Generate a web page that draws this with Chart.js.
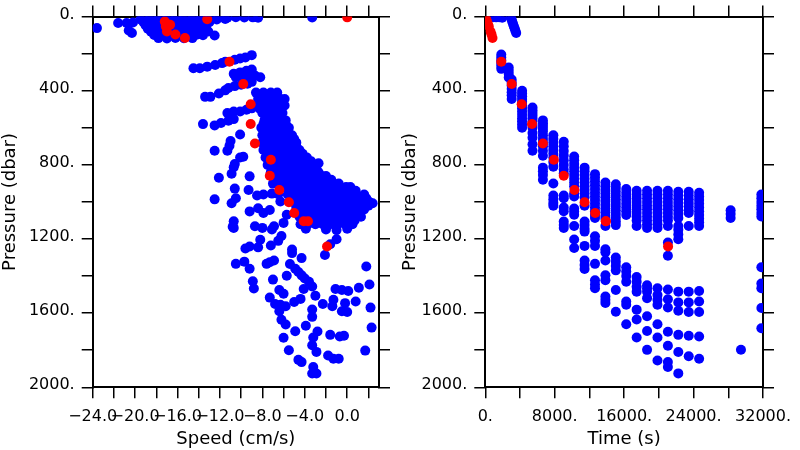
<!DOCTYPE html>
<html><head><meta charset="utf-8">
<script src="https://cdn.jsdelivr.net/npm/chart.js@4.4.1/dist/chart.umd.min.js"></script>
<style>
html,body{margin:0;padding:0;background:#fff;width:800px;height:450px;overflow:hidden}
canvas{position:absolute;top:0}
#c1{left:0}
#c2{left:400px}
</style></head><body>
<canvas id="c1" width="400" height="450"></canvas>
<canvas id="c2" width="400" height="450"></canvas>
<script>
// ---------- tick labels ----------
const pressureTickValues = [0, 400, 800, 1200, 1600, 2000];
const pressureTickLabels = ['0.', '400.', '800.', '1200.', '1600.', '2000.'];
const speedTickValues = [-24, -20, -16, -12, -8, -4, 0];
const speedTickLabels = ['\u221224.0', '\u221220.0', '\u221216.0', '\u221212.0', '\u22128.0', '\u22124.0', '0.0'];
const timeTickValues = [0, 8000, 16000, 24000, 32000];
const timeTickLabels = ['0.', '8000.', '16000.', '24000.', '32000.'];

// ---------- red (highlighted) samples ----------
const redSpeed    = [0.0, -13.2, -17.2, -16.7, -17.1, -17.0, -16.2, -15.3, -11.1, -9.8, -9.1, -9.1, -8.7, -7.2, -7.3, -6.4, -5.5, -5.0, -4.1, -3.7, -1.9];
const redPressure = [4, 14, 27, 44, 53, 80, 97, 115, 244, 364, 473, 579, 685, 772, 859, 936, 1002, 1060, 1104, 1104, 1240];
const redTime     = [0, 100, 200, 330, 400, 600, 720, 830, 1840, 3040, 4190, 5380, 6640, 7900, 9040, 10270, 11440, 12660, 13890, 13890, 21060];

// ---------- blue samples: speed vs pressure ----------
const speedPressureBlue = [
 [-19.3,5],[-18.5,4],[-17.7,6],[-16.9,3],[-16.1,5],[-15.3,4],[-14.5,6],[-13.7,3],[-12.9,5],[-12.1,4],[-11.3,6],[-10.5,3],[-9.7,5],[-8.9,4],[-8.4,6],
 [-19.5,16],[-18.7,15],[-17.9,17],[-17.1,14],[-16.3,16],[-15.5,15],[-14.7,17],[-13.9,14],[-13.1,16],[-12.3,15],[-11.5,13],
 [-19.2,31],[-18.4,30],[-17.6,32],[-16.8,29],[-16.0,31],[-15.2,30],[-14.4,32],[-13.6,29],[-13.0,30],
 [-19.0,48],[-18.2,47],[-17.4,49],[-16.6,46],[-15.8,48],[-15.0,47],[-14.2,49],[-13.4,46],
 [-18.8,65],[-18.0,64],[-17.2,66],[-16.4,63],[-15.6,65],[-14.8,64],[-14.0,66],[-13.3,63],
 [-18.5,82],[-17.7,81],[-16.9,83],[-16.1,80],[-15.3,82],[-14.5,81],[-13.7,83],
 [-18.2,99],[-17.4,98],[-16.6,100],[-15.8,97],[-15.0,99],[-14.2,98],[-13.6,100],
 [-17.8,116],[-17.0,118],[-16.2,115],[-15.4,117],[-14.6,116],
 [-23.6,62],[-21.6,35],[-20.8,35],[-20.2,32],[-20.3,88],[-20.6,75],[-12.5,102],[-13.1,80],[-3.3,5],
 [-14.5,279],[-13.9,279],[-13.2,270],[-12.45,261],[-11.8,251],[-11.5,244],[-10.6,233],[-10.1,226],[-9.6,221],[-9.0,208],
 [-10.7,309],[-10.1,301],[-9.5,292],[-9.0,286],[-10.5,327],[-9.9,322],[-9.3,313],[-8.7,318],[-8.2,327],
 [-11.2,385],[-10.6,375],[-10.0,368],[-9.4,362],[-9.0,352],
 [-13.4,433],[-12.9,433],[-12.1,415],[-11.5,398],
 [-11.3,520],[-10.7,512],[-10.1,512],[-9.5,503],[-9.0,495],
 [-13.6,580],[-12.5,587],[-11.9,574],[-11.2,562],[-10.7,553],
 [-10.1,636],[-11.1,697],[-11.0,671],[-11.3,724],[-12.5,724],
 [-10.1,760],[-9.8,756],[-10.6,795],[-10.7,813],[-10.9,848],[-9.2,862],[-12.1,869],
 [-10.6,928],[-9.3,936],[-12.5,986],[-10.5,980],[-10.9,1007],
 [-8.5,965],[-7.9,960],[-7.1,955],[-6.5,958],[-7.0,901],[-6.5,812],
 [-9.2,1051],[-8.4,1034],[-7.9,1060],[-7.3,1043],[-6.3,998],[-5.7,1069],[-6.0,1113],
 [-10.7,1104],[-10.8,1134],[-8.7,1131],[-8.0,1140],[-7.1,1148],[-6.9,1131],
 [-2.7,791],[2.4,1007],
 // dense core, rows
 [-8.6,410],[-7.9,410],[-7.2,410],[-6.6,410],
 [-8.4,445],[-7.7,445],[-7.0,445],[-6.3,445],[-5.9,445],
 [-8.3,462],[-7.6,462],[-6.9,462],[-6.2,462],
 [-8.6,480],[-7.9,480],[-7.2,480],[-6.5,480],[-5.9,480],
 [-8.2,500],[-7.5,500],[-6.8,500],[-6.2,500],
 [-8.0,520],[-7.5,520],[-6.8,520],[-6.1,520],
 [-7.7,540],[-7.0,540],[-6.4,540],
 [-7.8,560],[-7.1,560],[-6.4,560],[-5.8,560],
 [-7.9,580],[-7.2,580],[-6.5,580],[-5.8,580],
 [-8.1,600],[-7.4,600],[-6.7,600],[-6.0,600],[-5.5,600],
 [-7.7,620],[-7.0,620],[-6.3,620],[-5.6,620],
 [-8.0,640],[-7.3,640],[-6.6,640],[-5.9,640],[-5.2,640],
 [-7.7,660],[-7.0,660],[-6.3,660],[-5.6,660],[-5.0,660],
 [-8.0,680],[-7.1,680],[-6.4,680],[-5.7,680],[-5.0,680],[-4.8,680],
 [-7.6,700],[-6.9,700],[-6.2,700],[-5.5,700],[-4.8,700],
 [-7.9,720],[-7.2,720],[-6.5,720],[-5.8,720],[-5.1,720],[-4.5,720],
 [-7.5,740],[-6.8,740],[-6.1,740],[-5.4,740],[-4.7,740],[-4.2,740],
 [-7.7,760],[-6.7,760],[-6.0,760],[-5.3,760],[-4.6,760],[-4.0,760],[-3.8,760],
 [-7.3,780],[-6.6,780],[-5.9,780],[-5.2,780],[-4.5,780],[-3.8,780],[-3.4,780],
 [-7.5,800],[-6.8,800],[-6.1,800],[-5.4,800],[-4.7,800],[-4.0,800],[-3.1,800],
 [-7.0,820],[-6.3,820],[-5.6,820],[-4.9,820],[-4.2,820],[-3.5,820],[-2.9,820],
 [-7.2,840],[-6.2,840],[-5.5,840],[-4.8,840],[-4.1,840],[-3.4,840],[-2.7,840],
 [-6.6,860],[-5.9,860],[-5.2,860],[-4.5,860],[-3.8,860],[-3.1,860],[-2.4,860],[-2.0,860],
 [-6.6,880],[-5.9,880],[-5.2,880],[-4.5,880],[-3.8,880],[-3.1,880],[-2.4,880],[-1.5,880],
 [-6.2,900],[-5.5,900],[-4.8,900],[-4.1,900],[-3.4,900],[-2.7,900],[-2.0,900],[-1.3,900],[-0.8,900],
 [-6.0,920],[-5.0,920],[-4.3,920],[-3.6,920],[-2.9,920],[-2.2,920],[-1.5,920],[-0.8,920],[-0.1,920],[0.3,920],
 [-5.5,940],[-4.8,940],[-4.1,940],[-3.4,940],[-2.7,940],[-2.0,940],[-1.3,940],[-0.6,940],[0.1,940],[0.8,940],
 [-5.6,960],[-4.9,960],[-4.2,960],[-3.5,960],[-2.8,960],[-2.1,960],[-1.4,960],[-0.7,960],[0.0,960],[0.8,960],[1.6,960],
 [-5.3,980],[-4.6,980],[-3.9,980],[-3.2,980],[-2.5,980],[-1.8,980],[-1.1,980],[-0.4,980],[0.3,980],[1.0,980],[1.8,980],
 [-5.1,1000],[-4.1,1000],[-3.4,1000],[-2.7,1000],[-2.0,1000],[-1.3,1000],[-0.6,1000],[0.1,1000],[0.8,1000],[1.5,1000],[2.1,1000],
 [-4.8,1020],[-4.1,1020],[-3.4,1020],[-2.7,1020],[-2.0,1020],[-1.3,1020],[-0.6,1020],[0.1,1020],[0.8,1020],[1.5,1020],[2.0,1020],
 [-4.8,1040],[-4.1,1040],[-3.4,1040],[-2.7,1040],[-2.0,1040],[-1.3,1040],[-0.6,1040],[0.1,1040],[0.8,1040],[1.6,1040],
 [-4.4,1060],[-3.7,1060],[-3.0,1060],[-2.3,1060],[-1.6,1060],[-0.9,1060],[-0.2,1060],[0.5,1060],[1.2,1060],
 [-4.5,1080],[-3.5,1080],[-2.8,1080],[-2.1,1080],[-1.4,1080],[-0.7,1080],[0.0,1080],[0.7,1080],[1.3,1080],
 [-4.2,1100],[-3.5,1100],[-2.8,1100],[-2.1,1100],[-1.4,1100],[-0.7,1100],[0.0,1100],[0.7,1100],
 [-4.4,1120],[-3.7,1120],[-3.0,1120],[-2.3,1120],[-1.6,1120],[-0.9,1120],[-0.2,1120],[0.5,1120],
 [-3.9,1145],[-2.0,1148],[-1.0,1152],[0.0,1145],
 // deeper scattered samples
 [-10.7,1140],[-8.2,1204],[-8.4,1245],[-9.6,1251],[-9.2,1240],[-7.2,1235],[-6.5,1210],[-6.2,1184],
 [-5.2,1257],[-5.2,1276],[-4.3,1303],[-1.6,1228],[-1.0,1201],[-2.1,1286],
 [-10.5,1334],[-9.7,1322],[-9.2,1360],[-8.9,1428],[-8.8,1467],[-7.6,1334],[-7.3,1325],[-6.9,1316],[-7.0,1419],
 [-5.7,1398],[-5.4,1335],[-4.9,1360],[-4.6,1378],[-4.3,1396],[-4.0,1413],[-3.6,1431],[-3.3,1456],
 [-4.1,1470],[-3.0,1506],[-6.4,1475],[-6.0,1495],[-7.3,1516],[-6.8,1551],[-6.3,1555],[-5.8,1563],
 [-5.0,1540],[-4.4,1523],[-3.3,1580],[-3.3,1620],[-2.3,1551],[-6.4,1590],[-6.2,1636],[-5.8,1661],
 [-3.9,1668],[-4.9,1698],[-2.8,1699],[-6.0,1733],[-3.2,1731],[-3.3,1773],[-5.5,1800],[-2.9,1809],
 [-4.6,1852],[-4.3,1864],[-3.2,1890],[-3.3,1926],[-2.9,1926],
 [-1.1,1470],[-0.5,1475],[0.1,1480],[1.1,1463],[1.8,1348],[2.1,1445],[-1.3,1528],[-0.2,1546],[0.8,1537],
 [-1.4,1563],[-0.5,1590],[0.0,1594],[2.2,1570],[-1.6,1717],[-0.7,1726],[-0.3,1722],[2.3,1678],
 [-1.8,1828],[-1.3,1846],[-0.8,1846],[1.7,1802]
];

// ---------- blue samples: time vs pressure (casts) ----------
const castTimes = [1840, 2700, 3040, 4240, 5440, 6640, 7840, 9040, 10240, 11440, 12640, 13840, 15040,
                   16240, 17440, 18640, 19840, 21040, 22240, 23440, 24640, 28270, 29460, 31810];
const castPressures = [
 [205,220,235,250,265,282],
 [275,292,310,328],
 [340,355,372,390,408,425,445],
 [400,415,430,445,460,478,495,512,530,548,565,582,600],
 [490,505,520,535,550,565,585,600,628,654,689,724],
 [560,575,590,605,620,640,660,680,700,724,751,815,835,855,880],
 [640,660,680,700,720,740,760,785,810,900,965,985,1005,1020],
 [675,700,725,750,775,800,825,845,965,980,1030,1050,1105,1125,1140],
 [755,775,795,815,835,855,875,895,915,955,970,1035,1052,1069,1130,1203,1248],
 [815,835,855,875,895,915,935,955,975,1020,1105,1125,1145,1160,1237,1316,1340,1362],
 [850,870,890,910,930,950,970,990,1010,1030,1050,1070,1087,1185,1210,1237,1334,1422,1445,1466],
 [895,915,935,955,975,995,1015,1035,1055,1075,1090,1130,1255,1272,1316,1396,1422,1510,1528,1545],
 [905,925,945,965,985,1005,1025,1045,1065,1085,1105,1125,1300,1322,1345,1369,1475,1592],
 [930,950,970,990,1010,1030,1050,1070,1352,1375,1400,1431,1537,1555,1660],
 [940,960,980,1000,1020,1040,1060,1080,1100,1130,1405,1430,1458,1484,1581,1634,1731],
 [940,960,980,1000,1020,1040,1060,1080,1100,1120,1140,1449,1466,1484,1519,1617,1696,1798],
 [940,960,980,1000,1020,1040,1060,1080,1100,1120,1140,1466,1502,1528,1555,1660,1731,1855],
 [940,960,980,1000,1020,1040,1060,1080,1100,1130,1219,1290,1472,1525,1569,1700,1776,1864,1890],
 [945,965,985,1005,1025,1045,1065,1087,1130,1150,1175,1201,1484,1542,1587,1717,1810,1925],
 [945,965,985,1005,1025,1045,1060,1130,1484,1542,1594,1722,1832],
 [950,970,990,1010,1030,1050,1070,1090,1110,1130,1480,1537,1594,1726,1846],
 [1045,1065,1087],
 [1797],
 [960,980,1000,1020,1040,1060,1078,1352,1440,1466,1572,1681]
];
const surfaceTimes     = [900, 1250, 1600, 1950, 2950, 3030, 3110, 3200, 3290, 3380, 3470, 3560];
const surfacePressures = [3, 4, 3, 6, 4, 16, 28, 40, 52, 64, 76, 88];

// ---------- build ----------
const FONT = 'DejaVu Sans';
const BLACK = '#000000';
const DOT = 5;
function labelFrom(values, labels) {
  return (v) => { const i = values.indexOf(v); return i >= 0 ? labels[i] : ''; };
}
function gridOpts() {
  return {display: true, drawOnChartArea: false, drawTicks: true, tickLength: 11,
          tickWidth: 1.5, tickColor: BLACK, lineWidth: 1.5, color: BLACK};
}
function borderOpts() { return {display: true, color: BLACK, width: 2}; }

function makeChart(id, blue, red, xMin, xMax, xStep, xValues, xLabels, xTitle, leftW, rightW) {
  const ctx = document.getElementById(id);
  return new Chart(ctx, {
    type: 'scatter',
    data: {datasets: [
      {data: red, backgroundColor: '#ff0000', pointRadius: DOT, pointHoverRadius: DOT, borderWidth: 0, clip: 0, order: 0},
      {data: blue, backgroundColor: '#0000ff', pointRadius: DOT, pointHoverRadius: DOT, borderWidth: 0, clip: 0, order: 1}
    ]},
    options: {
      responsive: false, animation: false, devicePixelRatio: 1, events: [],
      layout: {padding: 0},
      plugins: {legend: {display: false}, tooltip: {enabled: false}},
      scales: {
        x: {type: 'linear', position: 'bottom', min: xMin, max: xMax,
            grid: gridOpts(), border: borderOpts(),
            ticks: {stepSize: xStep, includeBounds: false, autoSkip: false, maxRotation: 0, minRotation: 0,
                    color: BLACK, font: {family: FONT, size: 16}, padding: 9,
                    callback: labelFrom(xValues, xLabels)},
            title: {display: true, text: xTitle, color: BLACK, font: {family: FONT, size: 18}, padding: {top: 0, bottom: 0}},
            afterFit: (s) => { s.height = 62.7; }},
        xTop: {type: 'linear', position: 'top', min: xMin, max: xMax,
            grid: gridOpts(), border: borderOpts(),
            ticks: {stepSize: xStep, includeBounds: false, autoSkip: false, display: false},
            afterFit: (s) => { s.height = 10; }},
        y: {type: 'linear', position: 'left', reverse: true, min: 0, max: 2000,
            grid: gridOpts(), border: borderOpts(),
            ticks: {stepSize: 200, autoSkip: false, color: BLACK, font: {family: FONT, size: 16}, padding: 7,
                    labelOffset: -2,
                    callback: labelFrom(pressureTickValues, pressureTickLabels)},
            title: {display: true, text: 'Pressure (dbar)', color: BLACK, font: {family: FONT, size: 18}, padding: {top: 0, bottom: 0}},
            afterFit: (s) => { s.width = leftW; }},
        yRight: {type: 'linear', position: 'right', reverse: true, min: 0, max: 2000,
            grid: gridOpts(), border: borderOpts(),
            ticks: {stepSize: 200, autoSkip: false, display: false},
            afterFit: (s) => { s.width = rightW; }}
      }
    }
  });
}

const leftBlue = speedPressureBlue.map(([s, p]) => ({x: s, y: p}));
const leftRed = redSpeed.map((s, i) => ({x: s, y: redPressure[i]}));
const rightBlue = castTimes.flatMap((t, i) => castPressures[i].map(p => ({x: t, y: p})))
  .concat(surfaceTimes.map((t, i) => ({x: t, y: surfacePressures[i]})));
const rightRed = redTime.map((t, i) => ({x: t, y: redPressure[i]}));

makeChart('c1', leftBlue, leftRed, -24, 3, 2, speedTickValues, speedTickLabels, 'Speed (cm/s)', 92.7, 21);
makeChart('c2', rightBlue, rightRed, 0, 32000, 4000, timeTickValues, timeTickLabels, 'Time (s)', 85.3, 29.3);
</script>
</body></html>
